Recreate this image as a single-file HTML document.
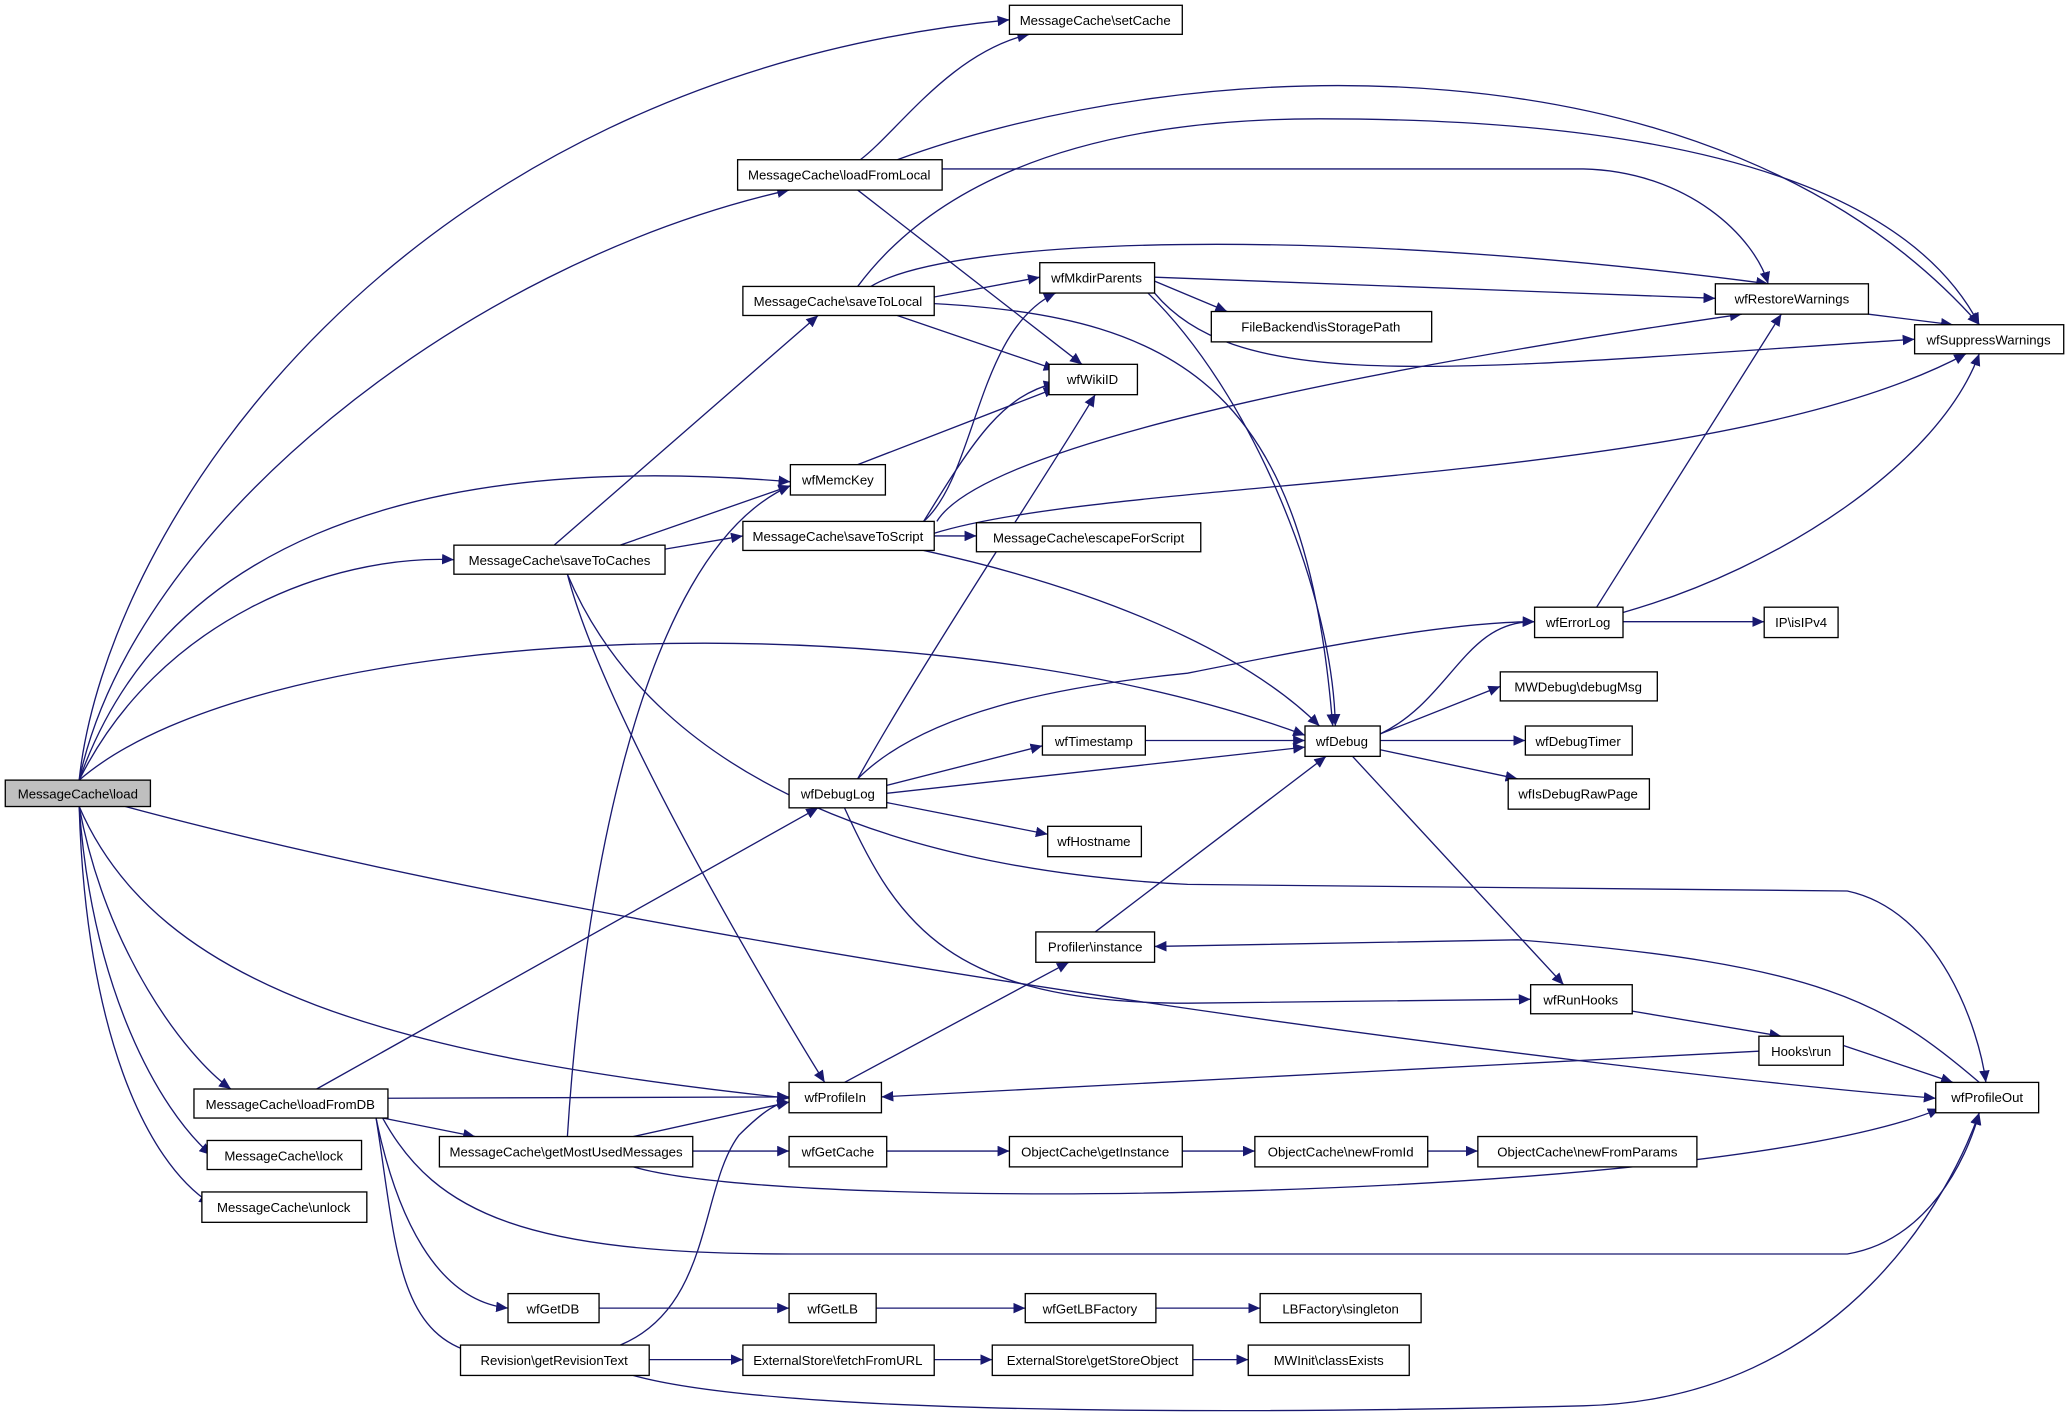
<!DOCTYPE html>
<html><head><meta charset="utf-8"><style>html,body{margin:0;padding:0;background:#fff}svg{display:block}text{font-family:"Liberation Sans",sans-serif;font-size:10px;fill:#000}</style></head><body>
<svg width="2069" height="1419" viewBox="0 0 1568 1075" preserveAspectRatio="none" xmlns="http://www.w3.org/2000/svg">
<defs><marker id="a" markerUnits="userSpaceOnUse" markerWidth="10" markerHeight="8" refX="9" refY="4" orient="auto"><path d="M0,0 L9,4 L0,8 Z" fill="#191970"/></marker></defs>
<g fill="none" stroke="#191970" stroke-width="1" marker-end="url(#a)">
<path d="M60,591 C80,400 300,60 765,15"/>
<path d="M60,591 C100,400 350,200 598,144"/>
<path d="M60,591 C120,420 300,340 599,365"/>
<path d="M60,591 C120,470 250,420 344,424"/>
<path d="M60,591 C200,470 700,450 989,557"/>
<path d="M60,611 C120,750 300,800 598,832"/>
<path d="M95,611 C500,720 1200,810 1467,832"/>
<path d="M60,611 C80,720 140,800 175,825"/>
<path d="M60,611 C70,750 120,840 160,875"/>
<path d="M60,611 C65,780 110,880 160,912"/>
<path d="M652,121 C680,100 720,40 780,26"/>
<path d="M680,121 C900,40 1300,20 1500,246"/>
<path d="M714,128 L1200,128 C1280,130 1330,180 1340,215"/>
<path d="M650,144 L820,276"/>
<path d="M708,225 L788,210"/>
<path d="M680,239 L800,280"/>
<path d="M708,230 C900,240 990,300 1010,550"/>
<path d="M650,217 C700,150 800,90 1000,90 C1300,90 1450,150 1500,246"/>
<path d="M660,217 C720,180 1000,170 1340,215"/>
<path d="M875,210 L1300,226"/>
<path d="M875,213 L930,236"/>
<path d="M870,222 C950,300 1010,450 1012,550"/>
<path d="M875,222 C940,300 1100,280 1451,257"/>
<path d="M1416,238 L1480,246"/>
<path d="M650,352 L800,294"/>
<path d="M420,413 L620,239"/>
<path d="M470,413 L599,368"/>
<path d="M504,416 L563,406"/>
<path d="M430,435 C460,550 600,780 625,820"/>
<path d="M430,435 C500,600 700,660 900,670 L1400,675 C1470,690 1500,780 1505,820"/>
<path d="M708,406 L740,406"/>
<path d="M700,395 C740,360 740,250 800,222"/>
<path d="M700,395 C740,330 760,300 800,290"/>
<path d="M710,395 C750,330 1100,270 1320,238"/>
<path d="M708,404 C850,360 1300,370 1490,268"/>
<path d="M700,417 C850,450 950,500 1000,550"/>
<path d="M1210,460 L1350,238"/>
<path d="M1230,464 C1350,430 1470,350 1500,268"/>
<path d="M1230,471 L1337,471"/>
<path d="M1046,556 C1100,530 1110,470 1163,471"/>
<path d="M1046,556 L1137,520"/>
<path d="M1046,561 L1156,561"/>
<path d="M1046,568 L1150,590"/>
<path d="M1025,573 L1185,746"/>
<path d="M868,561 L989,561"/>
<path d="M672,595 L790,565"/>
<path d="M672,601 L989,566"/>
<path d="M672,608 L794,632"/>
<path d="M650,590 C700,500 800,350 830,299"/>
<path d="M650,590 C700,540 800,520 900,510 C1000,490 1100,471 1163,471"/>
<path d="M640,612 C680,700 720,760 900,760 L1160,757"/>
<path d="M830,706 L1005,573"/>
<path d="M1237,766 L1350,785"/>
<path d="M1340,796 L668,831"/>
<path d="M1397,792 L1480,820"/>
<path d="M1500,820 C1430,760 1380,730 1150,712 L875,717"/>
<path d="M640,820 L810,729"/>
<path d="M240,825 L620,612"/>
<path d="M294,832 L598,831"/>
<path d="M290,847 L360,861"/>
<path d="M290,847 C330,920 400,950 600,950 L1400,950 C1460,940 1490,880 1500,843"/>
<path d="M285,847 C300,920 330,985 385,991"/>
<path d="M285,847 C300,940 300,1010 360,1025"/>
<path d="M430,861 C440,700 480,420 599,368"/>
<path d="M480,861 L598,835"/>
<path d="M525,872 L598,872"/>
<path d="M480,884 C600,920 1300,910 1470,840"/>
<path d="M672,872 L765,872"/>
<path d="M896,872 L951,872"/>
<path d="M1082,872 L1120,872"/>
<path d="M454,991 L598,991"/>
<path d="M664,991 L777,991"/>
<path d="M876,991 L955,991"/>
<path d="M492,1030 L563,1030"/>
<path d="M708,1030 L752,1030"/>
<path d="M904,1030 L946,1030"/>
<path d="M470,1019 C540,990 530,900 560,860 C580,840 590,835 598,835"/>
<path d="M480,1042 C600,1075 1000,1070 1200,1065 C1400,1060 1480,900 1500,843"/>
</g>
<g stroke="#000" stroke-width="1" fill="#fff">
<rect x="4" y="591" width="110" height="20" fill="#bfbfbf"/>
<rect x="765" y="4" width="131" height="22"/>
<rect x="559" y="121" width="155" height="23"/>
<rect x="563" y="217" width="145" height="22"/>
<rect x="788" y="199" width="87" height="23"/>
<rect x="918" y="236" width="167" height="23"/>
<rect x="1300" y="215" width="116" height="23"/>
<rect x="1451" y="246" width="113" height="22"/>
<rect x="795" y="276" width="67" height="23"/>
<rect x="599" y="352" width="72" height="23"/>
<rect x="344" y="413" width="160" height="22"/>
<rect x="563" y="395" width="145" height="22"/>
<rect x="740" y="396" width="170" height="22"/>
<rect x="1163" y="460" width="67" height="23"/>
<rect x="1337" y="460" width="56" height="23"/>
<rect x="1137" y="509" width="119" height="22"/>
<rect x="790" y="550" width="78" height="22"/>
<rect x="989" y="550" width="57" height="23"/>
<rect x="1156" y="550" width="81" height="22"/>
<rect x="1143" y="590" width="107" height="23"/>
<rect x="598" y="590" width="74" height="22"/>
<rect x="794" y="626" width="71" height="23"/>
<rect x="785" y="706" width="90" height="23"/>
<rect x="1160" y="746" width="77" height="22"/>
<rect x="1333" y="785" width="64" height="22"/>
<rect x="598" y="820" width="70" height="23"/>
<rect x="1467" y="820" width="78" height="23"/>
<rect x="147" y="825" width="147" height="22"/>
<rect x="157" y="864" width="117" height="22"/>
<rect x="333" y="861" width="192" height="23"/>
<rect x="598" y="861" width="74" height="23"/>
<rect x="765" y="861" width="131" height="23"/>
<rect x="951" y="861" width="131" height="23"/>
<rect x="1120" y="861" width="166" height="23"/>
<rect x="153" y="903" width="125" height="23"/>
<rect x="385" y="980" width="69" height="22"/>
<rect x="598" y="980" width="66" height="22"/>
<rect x="777" y="980" width="99" height="22"/>
<rect x="955" y="980" width="122" height="22"/>
<rect x="349" y="1019" width="143" height="23"/>
<rect x="563" y="1019" width="145" height="23"/>
<rect x="752" y="1019" width="152" height="23"/>
<rect x="946" y="1019" width="122" height="23"/>
</g>
<g text-anchor="middle">
<text x="59" y="605">MessageCache\load</text>
<text x="830" y="19">MessageCache\setCache</text>
<text x="636" y="136">MessageCache\loadFromLocal</text>
<text x="635" y="232">MessageCache\saveToLocal</text>
<text x="831" y="214">wfMkdirParents</text>
<text x="1001" y="251">FileBackend\isStoragePath</text>
<text x="1358" y="230">wfRestoreWarnings</text>
<text x="1507" y="261">wfSuppressWarnings</text>
<text x="828" y="291">wfWikiID</text>
<text x="635" y="367">wfMemcKey</text>
<text x="424" y="428">MessageCache\saveToCaches</text>
<text x="635" y="410">MessageCache\saveToScript</text>
<text x="825" y="411">MessageCache\escapeForScript</text>
<text x="1196" y="475">wfErrorLog</text>
<text x="1365" y="475">IP\isIPv4</text>
<text x="1196" y="524">MWDebug\debugMsg</text>
<text x="829" y="565">wfTimestamp</text>
<text x="1017" y="565">wfDebug</text>
<text x="1196" y="565">wfDebugTimer</text>
<text x="1196" y="605">wfIsDebugRawPage</text>
<text x="635" y="605">wfDebugLog</text>
<text x="829" y="641">wfHostname</text>
<text x="830" y="721">Profiler\instance</text>
<text x="1198" y="761">wfRunHooks</text>
<text x="1365" y="800">Hooks\run</text>
<text x="633" y="835">wfProfileIn</text>
<text x="1506" y="835">wfProfileOut</text>
<text x="220" y="840">MessageCache\loadFromDB</text>
<text x="215" y="879">MessageCache\lock</text>
<text x="429" y="876">MessageCache\getMostUsedMessages</text>
<text x="635" y="876">wfGetCache</text>
<text x="830" y="876">ObjectCache\getInstance</text>
<text x="1016" y="876">ObjectCache\newFromId</text>
<text x="1203" y="876">ObjectCache\newFromParams</text>
<text x="215" y="918">MessageCache\unlock</text>
<text x="419" y="995">wfGetDB</text>
<text x="631" y="995">wfGetLB</text>
<text x="826" y="995">wfGetLBFactory</text>
<text x="1016" y="995">LBFactory\singleton</text>
<text x="420" y="1034">Revision\getRevisionText</text>
<text x="635" y="1034">ExternalStore\fetchFromURL</text>
<text x="828" y="1034">ExternalStore\getStoreObject</text>
<text x="1007" y="1034">MWInit\classExists</text>
</g>
</svg>
</body></html>
